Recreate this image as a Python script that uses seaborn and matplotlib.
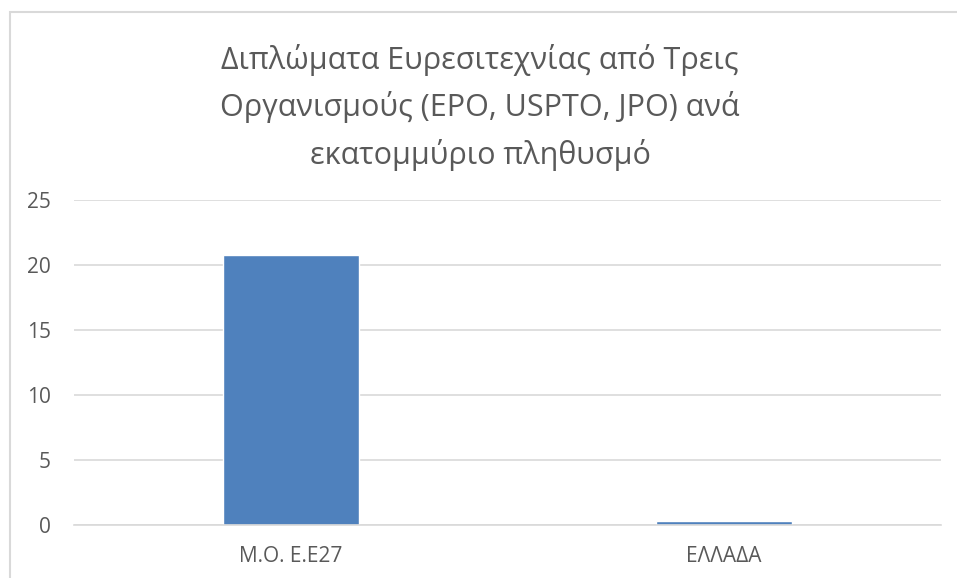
import matplotlib
matplotlib.use("Agg")
import matplotlib.pyplot as plt
import seaborn as sns
import pandas as pd
from matplotlib.patches import Rectangle

# Δεδομένα
categories = ["Μ.Ο. Ε.Ε27", "ΕΛΛΑΔΑ"]
values = [20.75, 0.28]
title = "Διπλώματα Ευρεσιτεχνίας από Τρεις\nΟργανισμούς (EPO, USPTO, JPO) ανά\nεκατομμύριο πληθυσμό"
yticks = [0, 5, 10, 15, 20, 25]

df = pd.DataFrame({"cat": categories, "val": values})

sns.set_theme(style="white")
plt.rcParams["font.family"] = ["Open Sans", "DejaVu Sans"]

text_color = "#595959"
grid_color = "#D9D9D9"

fig = plt.figure(figsize=(9.57, 5.78), dpi=100)
ax = fig.add_axes([74 / 957, 1 - 525 / 578, (941 - 74) / 957, (525 - 200) / 578])

sns.barplot(data=df, x="cat", y="val", color="#4F81BD", saturation=1, width=0.314, ax=ax)

ax.set_ylim(0, 25)
ax.set_yticks(yticks)
ax.set_xlim(-0.5, 1.5)
ax.yaxis.grid(True, color=grid_color, linewidth=1.2)
ax.set_axisbelow(True)
for s in ["left", "right", "top"]:
    ax.spines[s].set_visible(False)
ax.spines["bottom"].set_color(grid_color)
ax.spines["bottom"].set_linewidth(1.2)
ax.set_xlabel("")
ax.set_ylabel("")
ax.tick_params(axis="y", length=0, pad=16.5, labelsize=15, labelcolor=text_color)
ax.tick_params(axis="x", length=0, pad=15, labelsize=15, labelcolor=text_color)

fig.text(480 / 957, 1 - 107 / 578, title, ha="center", va="center",
         fontsize=22, color=text_color, linespacing=1.62)

# πλαίσιο γραφήματος
fig.patches.append(Rectangle((10 / 957, -0.1), 1.2, 1 - 11.5 / 578 + 0.1,
                             transform=fig.transFigure, fill=False,
                             edgecolor="#D9D9D9", linewidth=1.5))

fig.savefig("out.png", dpi=100)
